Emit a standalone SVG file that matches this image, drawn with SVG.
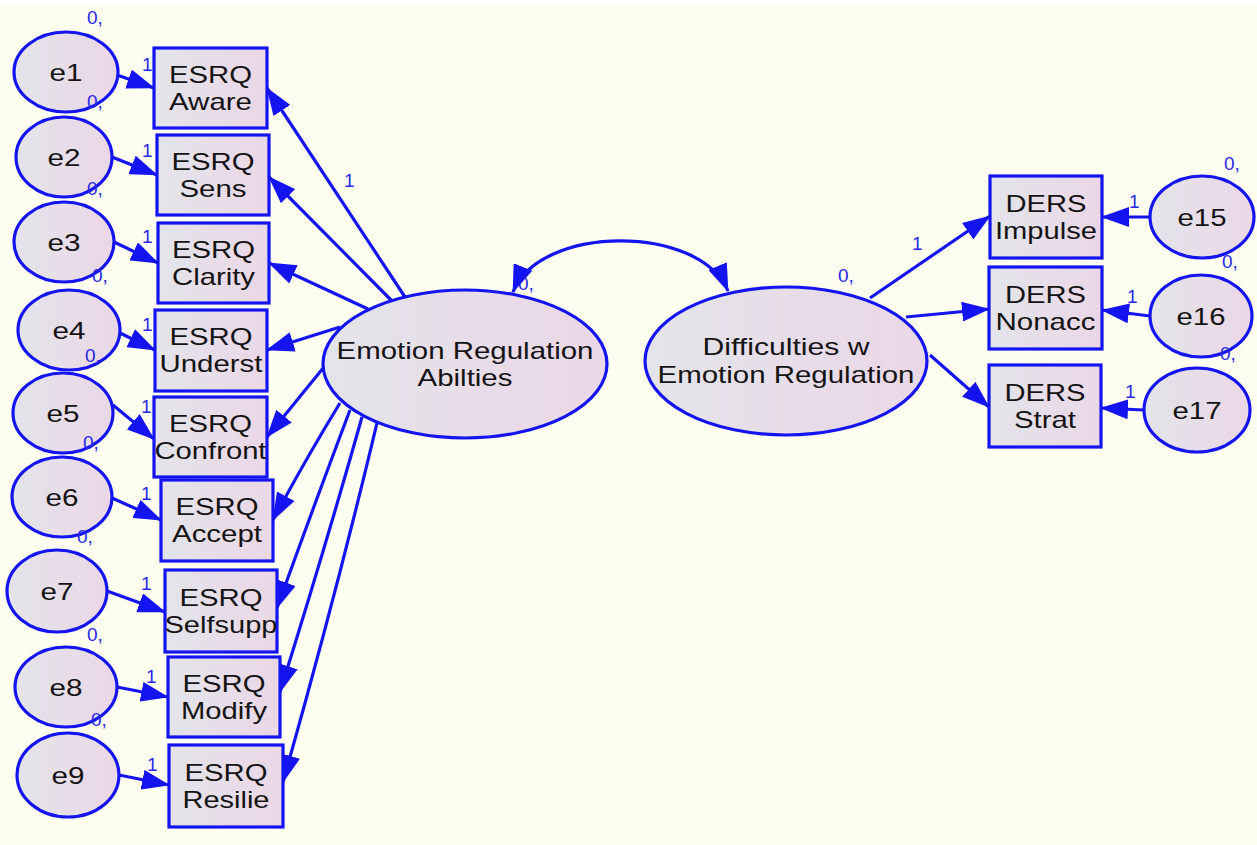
<svg xmlns="http://www.w3.org/2000/svg" width="1257" height="845" viewBox="0 0 1257 845">
  <defs>
    <linearGradient id="fillGrad" x1="0" y1="0" x2="1" y2="0">
      <stop offset="0" stop-color="#E3E4EA"/>
      <stop offset="1" stop-color="#EBD7E6"/>
    </linearGradient>
    <marker id="ah" markerUnits="userSpaceOnUse" viewBox="0 0 28 20" markerWidth="28" markerHeight="20" refX="27" refY="10" orient="auto">
      <path d="M0,0 L28,10 L0,20 z" fill="#1414F0"/>
    </marker>
    <marker id="ah2" markerUnits="userSpaceOnUse" viewBox="0 0 28 20" markerWidth="28" markerHeight="20" refX="27" refY="10" orient="auto-start-reverse">
      <path d="M0,0 L28,10 L0,20 z" fill="#1414F0"/>
    </marker>
    <style>
      .n { fill: url(#fillGrad); stroke: #1414F0; stroke-width: 3.2; }
      .t { font-family: "Liberation Sans", Arial, sans-serif; font-size: 24px; fill: #141414; text-anchor: middle; }
      .lb { font-family: "Liberation Sans", Arial, sans-serif; font-size: 19px; fill: #2828E6; }
      .c { stroke: #1414F0; stroke-width: 3.2; fill: none; marker-end: url(#ah); }
      .cov { stroke: #1414F0; stroke-width: 3.2; fill: none; marker-start: url(#ah2); marker-end: url(#ah2); }
    </style>
  </defs>

  <!-- canvas -->
  <rect x="0" y="0" width="1257" height="845" fill="#FEFEF0"/>
  <rect x="0" y="0" width="1257" height="5" fill="#FFFFFF"/>

  <!-- mean/intercept label partly covered by the covariance arrowhead -->
  <text class="lb" x="518" y="290">0,</text>

  <!-- connectors -->
  <g id="connectors">
    <!-- error terms to indicators -->
    <line class="c" x1="117" y1="75" x2="154" y2="88"/>
    <line class="c" x1="112" y1="157" x2="157" y2="175"/>
    <line class="c" x1="114" y1="242" x2="158" y2="263"/>
    <line class="c" x1="120" y1="333" x2="155" y2="350"/>
    <line class="c" x1="113" y1="405" x2="154" y2="439"/>
    <line class="c" x1="112" y1="498" x2="161" y2="520"/>
    <line class="c" x1="107" y1="591" x2="165" y2="612"/>
    <line class="c" x1="117" y1="687" x2="168" y2="697"/>
    <line class="c" x1="119" y1="775" x2="169" y2="785"/>
    <line class="c" x1="1150" y1="217" x2="1102" y2="217"/>
    <line class="c" x1="1150" y1="316" x2="1102" y2="310"/>
    <line class="c" x1="1144" y1="410" x2="1101" y2="408"/>
    <!-- Emotion Regulation Abilities loadings -->
    <line class="c" x1="405" y1="297" x2="267" y2="88"/>
    <line class="c" x1="392" y1="301" x2="269" y2="177"/>
    <line class="c" x1="368" y1="309" x2="269" y2="263"/>
    <line class="c" x1="340" y1="327" x2="267" y2="350"/>
    <line class="c" x1="324" y1="367" x2="267" y2="437"/>
    <path class="c" d="M340,403 Q308,455 273,520"/>
    <path class="c" d="M350,410 Q316,500 277,608"/>
    <path class="c" d="M362,417 Q326,545 280,692"/>
    <path class="c" d="M377,423 Q336,595 283,782"/>
    <!-- Difficulties w Emotion Regulation loadings -->
    <line class="c" x1="870" y1="298" x2="990" y2="216"/>
    <line class="c" x1="906" y1="317" x2="989" y2="309"/>
    <line class="c" x1="930" y1="355" x2="989" y2="407"/>
    <!-- factor covariance -->
    <path class="cov" d="M513,292 C540,224 700,224 728,291"/>
  </g>

  <!-- latent factors -->
  <g id="era">
    <ellipse class="n" cx="465" cy="364" rx="142" ry="74"/>
    <text class="t" x="465" y="359" textLength="257" lengthAdjust="spacingAndGlyphs">Emotion Regulation</text>
    <text class="t" x="465" y="386" textLength="95" lengthAdjust="spacingAndGlyphs">Abilties</text>
  </g>
  <g id="dwer">
    <ellipse class="n" cx="786" cy="361" rx="141" ry="74"/>
    <text class="t" x="786" y="355" textLength="167" lengthAdjust="spacingAndGlyphs">Difficulties w</text>
    <text class="t" x="786" y="383" textLength="257" lengthAdjust="spacingAndGlyphs">Emotion Regulation</text>
  </g>

  <!-- observed indicators -->
  <g id="aware">
    <rect class="n" x="154" y="48" width="113" height="80"/>
    <text class="t" x="210.5" y="83" textLength="83" lengthAdjust="spacingAndGlyphs">ESRQ</text>
    <text class="t" x="210.5" y="110" textLength="83" lengthAdjust="spacingAndGlyphs">Aware</text>
  </g>
  <g id="sens">
    <rect class="n" x="157" y="135" width="112" height="80"/>
    <text class="t" x="213" y="170" textLength="83" lengthAdjust="spacingAndGlyphs">ESRQ</text>
    <text class="t" x="213" y="197" textLength="67" lengthAdjust="spacingAndGlyphs">Sens</text>
  </g>
  <g id="clarity">
    <rect class="n" x="158" y="223" width="111" height="80"/>
    <text class="t" x="213.5" y="258" textLength="83" lengthAdjust="spacingAndGlyphs">ESRQ</text>
    <text class="t" x="213.5" y="285" textLength="83" lengthAdjust="spacingAndGlyphs">Clarity</text>
  </g>
  <g id="underst">
    <rect class="n" x="155" y="310" width="112" height="81"/>
    <text class="t" x="211" y="345" textLength="83" lengthAdjust="spacingAndGlyphs">ESRQ</text>
    <text class="t" x="211" y="372" textLength="103" lengthAdjust="spacingAndGlyphs">Underst</text>
  </g>
  <g id="confront">
    <rect class="n" x="154" y="397" width="113" height="80"/>
    <text class="t" x="210.5" y="432" textLength="83" lengthAdjust="spacingAndGlyphs">ESRQ</text>
    <text class="t" x="210.5" y="459" textLength="112" lengthAdjust="spacingAndGlyphs">Confront</text>
  </g>
  <g id="accept">
    <rect class="n" x="161" y="480" width="112" height="81"/>
    <text class="t" x="217" y="515" textLength="83" lengthAdjust="spacingAndGlyphs">ESRQ</text>
    <text class="t" x="217" y="542" textLength="90" lengthAdjust="spacingAndGlyphs">Accept</text>
  </g>
  <g id="selfsupp">
    <rect class="n" x="165" y="570" width="112" height="82"/>
    <text class="t" x="221" y="606" textLength="83" lengthAdjust="spacingAndGlyphs">ESRQ</text>
    <text class="t" x="221" y="633" textLength="113" lengthAdjust="spacingAndGlyphs">Selfsupp</text>
  </g>
  <g id="modify">
    <rect class="n" x="168" y="657" width="112" height="80"/>
    <text class="t" x="224" y="692" textLength="83" lengthAdjust="spacingAndGlyphs">ESRQ</text>
    <text class="t" x="224" y="719" textLength="86" lengthAdjust="spacingAndGlyphs">Modify</text>
  </g>
  <g id="resilie">
    <rect class="n" x="169" y="745" width="114" height="82"/>
    <text class="t" x="226" y="781" textLength="83" lengthAdjust="spacingAndGlyphs">ESRQ</text>
    <text class="t" x="226" y="808" textLength="87" lengthAdjust="spacingAndGlyphs">Resilie</text>
  </g>
  <g id="impulse">
    <rect class="n" x="990" y="176" width="112" height="82"/>
    <text class="t" x="1046" y="212" textLength="81" lengthAdjust="spacingAndGlyphs">DERS</text>
    <text class="t" x="1046" y="239" textLength="102" lengthAdjust="spacingAndGlyphs">Impulse</text>
  </g>
  <g id="nonacc">
    <rect class="n" x="989" y="267" width="113" height="82"/>
    <text class="t" x="1045.5" y="303" textLength="81" lengthAdjust="spacingAndGlyphs">DERS</text>
    <text class="t" x="1045.5" y="330" textLength="100" lengthAdjust="spacingAndGlyphs">Nonacc</text>
  </g>
  <g id="strat">
    <rect class="n" x="989" y="365" width="112" height="82"/>
    <text class="t" x="1045" y="401" textLength="81" lengthAdjust="spacingAndGlyphs">DERS</text>
    <text class="t" x="1045" y="428" textLength="62" lengthAdjust="spacingAndGlyphs">Strat</text>
  </g>

  <!-- error terms -->
  <g id="e1"><ellipse class="n" cx="66" cy="72" rx="52" ry="40"/><text class="t" x="66" y="80.5" textLength="33" lengthAdjust="spacingAndGlyphs">e1</text></g>
  <g id="e2"><ellipse class="n" cx="64" cy="157" rx="48" ry="40"/><text class="t" x="64" y="165.5" textLength="33" lengthAdjust="spacingAndGlyphs">e2</text></g>
  <g id="e3"><ellipse class="n" cx="64" cy="242" rx="50" ry="40"/><text class="t" x="64" y="250.5" textLength="33" lengthAdjust="spacingAndGlyphs">e3</text></g>
  <g id="e4"><ellipse class="n" cx="69" cy="330" rx="51" ry="40"/><text class="t" x="69" y="338.5" textLength="33" lengthAdjust="spacingAndGlyphs">e4</text></g>
  <g id="e5"><ellipse class="n" cx="63" cy="413" rx="50" ry="40"/><text class="t" x="63" y="421.5" textLength="33" lengthAdjust="spacingAndGlyphs">e5</text></g>
  <g id="e6"><ellipse class="n" cx="62" cy="497" rx="50" ry="40"/><text class="t" x="62" y="505.5" textLength="33" lengthAdjust="spacingAndGlyphs">e6</text></g>
  <g id="e7"><ellipse class="n" cx="57" cy="591" rx="50" ry="41"/><text class="t" x="57" y="599.5" textLength="33" lengthAdjust="spacingAndGlyphs">e7</text></g>
  <g id="e8"><ellipse class="n" cx="66" cy="687" rx="51" ry="40"/><text class="t" x="66" y="695.5" textLength="33" lengthAdjust="spacingAndGlyphs">e8</text></g>
  <g id="e9"><ellipse class="n" cx="68" cy="775" rx="51" ry="42"/><text class="t" x="68" y="783.5" textLength="33" lengthAdjust="spacingAndGlyphs">e9</text></g>
  <g id="e15"><ellipse class="n" cx="1202" cy="217" rx="52" ry="41"/><text class="t" x="1202" y="225.5" textLength="49" lengthAdjust="spacingAndGlyphs">e15</text></g>
  <g id="e16"><ellipse class="n" cx="1201" cy="316" rx="51" ry="41"/><text class="t" x="1201" y="324.5" textLength="49" lengthAdjust="spacingAndGlyphs">e16</text></g>
  <g id="e17"><ellipse class="n" cx="1197" cy="410" rx="53" ry="42"/><text class="t" x="1197" y="418.5" textLength="49" lengthAdjust="spacingAndGlyphs">e17</text></g>

  <!-- parameter labels -->
  <g id="labels">
    <text class="lb" x="87" y="24">0,</text>
    <text class="lb" x="87" y="108">0,</text>
    <text class="lb" x="87" y="195">0,</text>
    <text class="lb" x="92" y="282">0,</text>
    <text class="lb" x="85" y="362">0,</text>
    <text class="lb" x="83" y="449">0,</text>
    <text class="lb" x="77" y="543">0,</text>
    <text class="lb" x="87" y="641">0,</text>
    <text class="lb" x="91" y="726">0,</text>
    <text class="lb" x="1224" y="170">0,</text>
    <text class="lb" x="1222" y="268">0,</text>
    <text class="lb" x="1220" y="360">0,</text>
    <text class="lb" x="838" y="282">0,</text>
    <text class="lb" x="142" y="71">1</text>
    <text class="lb" x="142" y="157">1</text>
    <text class="lb" x="142" y="243">1</text>
    <text class="lb" x="142" y="331">1</text>
    <text class="lb" x="141" y="413">1</text>
    <text class="lb" x="141" y="500">1</text>
    <text class="lb" x="141" y="590">1</text>
    <text class="lb" x="146" y="683">1</text>
    <text class="lb" x="147" y="771">1</text>
    <text class="lb" x="1129" y="208">1</text>
    <text class="lb" x="1127" y="303">1</text>
    <text class="lb" x="1125" y="398">1</text>
    <text class="lb" x="344" y="187">1</text>
    <text class="lb" x="912" y="250">1</text>
  </g>
</svg>
